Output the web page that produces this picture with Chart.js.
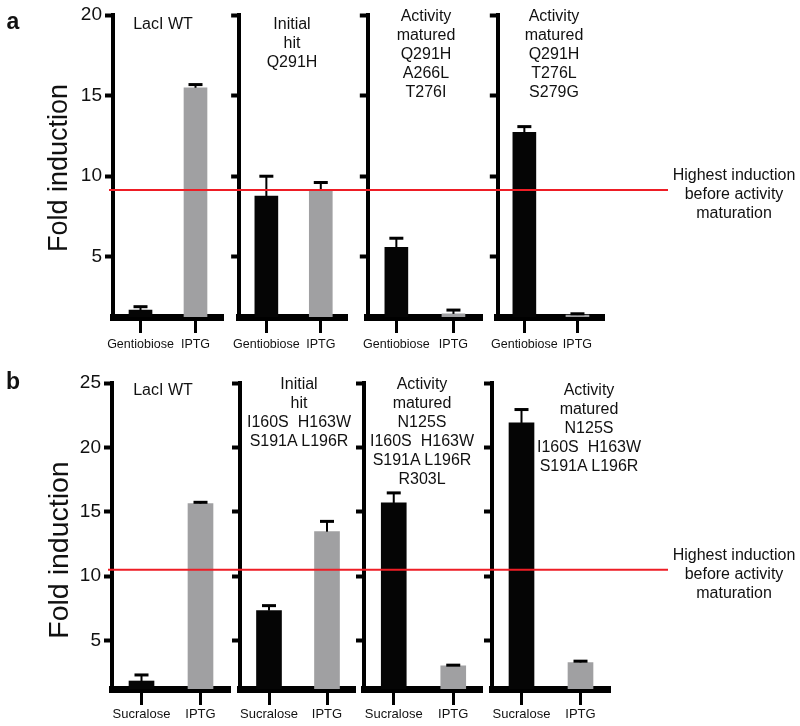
<!DOCTYPE html>
<html>
<head>
<meta charset="utf-8">
<script src="https://cdn.jsdelivr.net/npm/chart.js@4"></script>
<style>
    body { margin: 0; background: #fff; }
    #fig { position: relative; width: 800px; height: 726px; overflow: hidden;
           font-family: "Liberation Sans", Arial, sans-serif; color: #111; }
    #fig canvas { position: absolute; }
    .txt { position: absolute; white-space: pre; text-align: center; line-height: 19px; font-size: 16px; }
    .ylab { position: absolute; white-space: nowrap; line-height: 1; transform: translate(-50%, -50%) rotate(-90deg); }
    .letter { position: absolute; font-weight: bold; line-height: 1; transform: translate(-50%, -50%); }
</style>
</head>
<body>
<div id="fig"></div>
<script>
// ---- data ----
const categoriesA = ["Gentiobiose", "IPTG"];
const categoriesB = ["Sucralose", "IPTG"];

const foldA = [[1.68, 15.48], [8.75, 9.14], [5.58, 1.44], [12.72, 1.37]];
const errA  = [[0.21, 0.20], [1.24, 0.46], [0.56, 0.24], [0.35, 0.08]];
const foldB = [[1.87, 15.64], [7.33, 13.46], [15.69, 3.04], [21.9, 3.31]];
const errB  = [[0.47, 0.10], [0.39, 0.80], [0.78, 0.06], [1.04, 0.10]];

const thresholdA = 9.14;
const thresholdB = 10.51;

const yTicksA = [5, 10, 15, 20];
const yTicksB = [5, 10, 15, 20, 25];

const titlesA = [
    ["LacI WT"],
    ["Initial", "hit", "Q291H"],
    ["Activity", "matured", "Q291H", "A266L", "T276I"],
    ["Activity", "matured", "Q291H", "T276L", "S279G"]
];
const titlesB = [
    ["LacI WT"],
    ["Initial", "hit", "I160S  H163W", "S191A L196R"],
    ["Activity", "matured", "N125S", "I160S  H163W", "S191A L196R", "R303L"],
    ["Activity", "matured", "N125S", "I160S  H163W", "S191A L196R"]
];
const noteLines = ["Highest induction", "before activity", "maturation"];

// ---- layout (pixels) ----
const FONT = '"Liberation Sans", Arial, sans-serif';
const BLACK = "#050505";
const GREY = "#a0a0a2";
const RED = "#ee1d25";

const rowA = {
    top: 0, height: 352, areaTop: 15, areaBottom: 317, max: 20, barWidth: 23, labelPad: 4,
    labelSize: 12.5,
    panels: [
        { left: 0, width: 226, areaLeft: 113, areaRight: 223 },
        { left: 226, width: 131, areaLeft: 238, areaRight: 348 },
        { left: 357, width: 128, areaLeft: 365, areaRight: 482 },
        { left: 485, width: 183, areaLeft: 493, areaRight: 604 }
    ],
    titleX: [163, 292, 426, 554], titleY: [23, 23, 15, 15]
};
const rowB = {
    top: 352, height: 374, areaTop: 383, areaBottom: 689, max: 25, barWidth: 25, labelPad: 2,
    labelSize: 13,
    panels: [
        { left: 0, width: 232, areaLeft: 112, areaRight: 230 },
        { left: 232, width: 124, areaLeft: 240, areaRight: 356 },
        { left: 356, width: 127, areaLeft: 364, areaRight: 483 },
        { left: 483, width: 185, areaLeft: 492, areaRight: 610 }
    ],
    titleX: [163, 299, 422, 589], titleY: [389, 383, 383, 389]
};

const fig = document.getElementById("fig");

function addText(cls, html, style) {
    const d = document.createElement("div");
    d.className = cls;
    d.textContent = html;
    Object.assign(d.style, style);
    fig.appendChild(d);
    return d;
}

function errorBarPlugin(errs) {
    return {
        id: "errorBars",
        afterDatasetsDraw(chart) {
            const ctx = chart.ctx;
            const y = chart.scales.y;
            const meta = chart.getDatasetMeta(0);
            const values = chart.data.datasets[0].data;
            ctx.save();
            ctx.fillStyle = "#000";
            meta.data.forEach((bar, i) => {
                const yTop = y.getPixelForValue(values[i]);
                const yCap = y.getPixelForValue(values[i] + errs[i]);
                ctx.fillRect(bar.x - 1, yCap, 2, yTop - yCap);
                ctx.fillRect(bar.x - 7, yCap - 1.5, 14, 3);
            });
            ctx.restore();
        }
    };
}

function thresholdPlugin(value, fromAxis) {
    return {
        id: "threshold",
        afterDraw(chart) {
            const ctx = chart.ctx;
            const py = chart.scales.y.getPixelForValue(value);
            ctx.save();
            ctx.strokeStyle = RED;
            ctx.lineWidth = 2;
            ctx.beginPath();
            ctx.moveTo(fromAxis ? chart.chartArea.left - 4 : 0, py);
            ctx.lineTo(chart.width, py);
            ctx.stroke();
            ctx.restore();
        }
    };
}

function drawRow(row, categories, fold, errs, yTicks, threshold, titles) {
    row.panels.forEach((p, i) => {
        const canvas = document.createElement("canvas");
        canvas.width = p.width;
        canvas.height = row.height;
        canvas.style.left = p.left + "px";
        canvas.style.top = row.top + "px";
        fig.appendChild(canvas);

        const yWidth = p.areaLeft - p.left;
        const xHeight = row.height - row.areaBottom + row.top;

        new Chart(canvas, {
            type: "bar",
            data: {
                labels: categories,
                datasets: [{
                    data: fold[i],
                    backgroundColor: [BLACK, GREY],
                    borderWidth: 0,
                    barThickness: row.barWidth
                }]
            },
            options: {
                responsive: false,
                animation: false,
                devicePixelRatio: 1,
                layout: {
                    padding: { left: 0, top: row.areaTop - row.top, right: p.left + p.width - p.areaRight, bottom: 0 }
                },
                plugins: { legend: { display: false }, tooltip: { enabled: false } },
                scales: {
                    x: {
                        type: "category",
                        offset: true,
                        grid: { offset: false, drawOnChartArea: false, tickLength: 16, tickWidth: 3, tickColor: "#000" },
                        border: { display: true, width: 7, color: "#000" },
                        ticks: {
                            color: "#111", padding: row.labelPad, maxRotation: 0, minRotation: 0, autoSkip: false,
                            font: { family: FONT, size: row.labelSize }
                        },
                        afterFit: s => { s.height = xHeight; }
                    },
                    y: {
                        min: 1.25,
                        max: row.max,
                        afterBuildTicks: s => { s.ticks = yTicks.map(v => ({ value: v })); },
                        grid: { drawOnChartArea: false, tickLength: 8, tickWidth: 4, tickColor: "#000" },
                        border: { display: true, width: 4, color: "#000" },
                        ticks: {
                            display: i === 0, color: "#111", padding: 3,
                            font: { family: FONT, size: 19 }
                        },
                        afterFit: s => { s.width = yWidth; }
                    }
                }
            },
            plugins: [errorBarPlugin(errs[i]), thresholdPlugin(threshold, i === 0)]
        });

        addText("txt", titles[i].join("\n"), {
            left: (row.titleX[i] - 100) + "px", width: "200px",
            top: (row.titleY[i] - 9.5) + "px"
        });
    });
}

drawRow(rowA, categoriesA, foldA, errA, yTicksA, thresholdA, titlesA);
drawRow(rowB, categoriesB, foldB, errB, yTicksB, thresholdB, titlesB);

// axis titles, panel letters, threshold notes
addText("ylab", "Fold induction", { left: "58px", top: "168px", fontSize: "27px" });
addText("ylab", "Fold induction", { left: "58px", top: "550px", fontSize: "28.5px" });
addText("letter", "a", { left: "13px", top: "21px", fontSize: "23px" });
addText("letter", "b", { left: "13px", top: "381px", fontSize: "23px" });
addText("txt", noteLines.join("\n"), { left: "664px", width: "140px", top: "164.5px" });
addText("txt", noteLines.join("\n"), { left: "664px", width: "140px", top: "544.5px" });
</script>
</body>
</html>
